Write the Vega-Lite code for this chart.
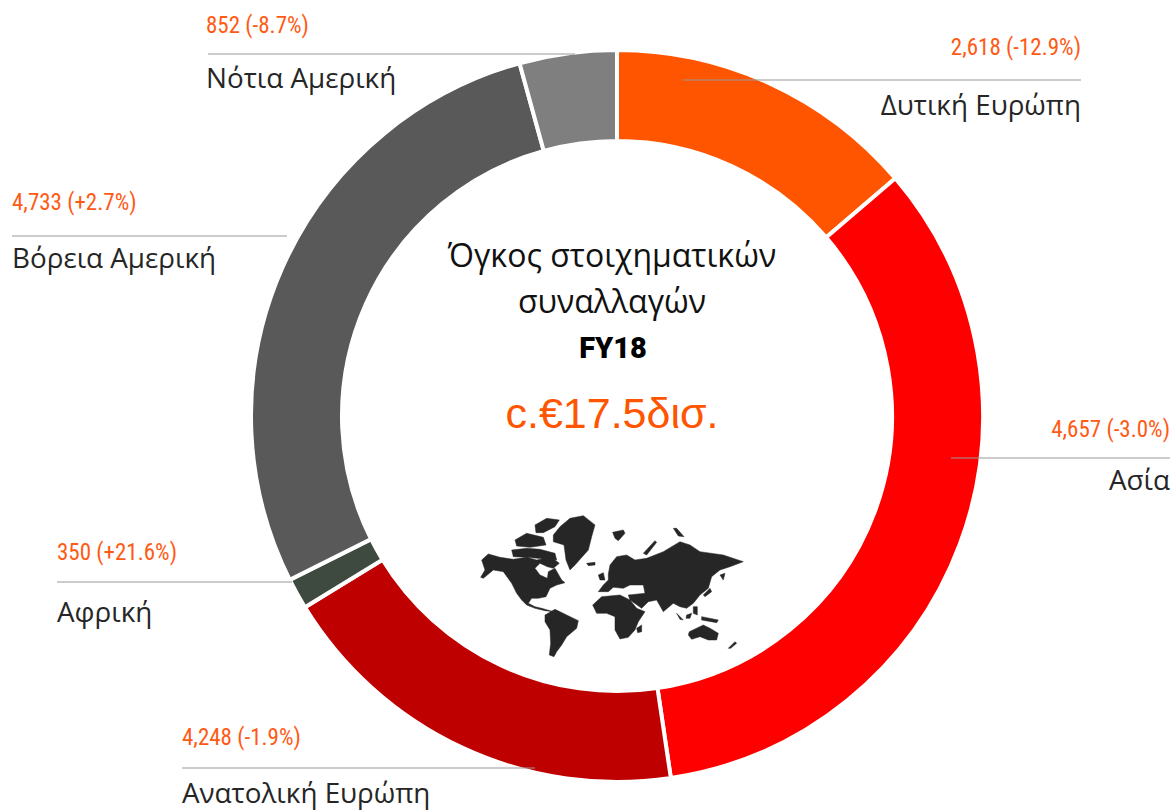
{"$schema":"https://vega.github.io/schema/vega-lite/v6.json","width":1176,"height":811,"padding":0,"autosize":"none","background":"white","config":{"view":{"stroke":null},"axis":{"disable":true}},
"datasets":{"regions":[
{"region":"Δυτική Ευρώπη","order":1,"arcShare":13.75,"volume":"2,618 (-12.9%)"},
{"region":"Ασία","order":2,"arcShare":33.9,"volume":"4,657 (-3.0%)"},
{"region":"Ανατολική Ευρώπη","order":3,"arcShare":18.6,"volume":"4,248 (-1.9%)"},
{"region":"Αφρική","order":4,"arcShare":1.36,"volume":"350 (+21.6%)"},
{"region":"Βόρεια Αμερική","order":5,"arcShare":28.1,"volume":"4,733 (+2.7%)"},
{"region":"Νότια Αμερική","order":6,"arcShare":4.29,"volume":"852 (-8.7%)"}
],"centre":[{"part":"a","text":"Όγκος στοιχηματικών"},{"part":"b","text":"συναλλαγών"},{"part":"c","text":"FY18"},{"part":"d","text":"c.€17.5δισ."}]},
"data":{"name":"regions"},
"layer":[
{"mark":{"type":"arc","radius":366,"radius2":275,"stroke":"white","strokeWidth":4},"encoding":{"x":{"datum":617,"scale":{"domain":[0,1176]}},"y":{"datum":416,"scale":{"domain":[811,0]}},"theta":{"field":"arcShare","type":"quantitative","stack":true},"order":{"field":"order","type":"ordinal"},"color":{"field":"region","type":"nominal","legend":null,"scale":{"domain":["Δυτική Ευρώπη","Ασία","Ανατολική Ευρώπη","Αφρική","Βόρεια Αμερική","Νότια Αμερική"],"range":["#FF5500","#FF0000","#BE0000","#3E4A3F","#595959","#7F7F7F"]}}}},
{"data":{"values":{"type":"FeatureCollection","features":[{"type":"Feature","properties":{"name":"world"},"geometry":{"type":"MultiPolygon","coordinates":[
[[[65,180],[85,162],[120,172],[160,178],[200,172],[230,180],[255,175],[285,180],[298,190],[280,205],[262,200],[240,190],[225,205],[240,225],[262,235],[265,215],[285,205],[305,240],[315,248],[290,255],[270,265],[258,290],[235,295],[215,295],[205,310],[225,320],[245,325],[280,335],[255,332],[225,325],[200,315],[185,300],[170,280],[155,250],[130,215],[100,210],[70,235],[62,232],[75,210],[65,180]]],
[[[225,75],[260,55],[298,60],[285,80],[250,98],[228,98],[225,75]]],
[[[165,120],[200,100],[250,112],[258,135],[210,142],[170,138],[165,120]]],
[[[155,150],[200,145],[240,148],[285,160],[290,180],[200,172],[160,170],[155,150]]],
[[[280,105],[300,80],[330,55],[370,47],[405,75],[395,110],[385,150],[345,195],[330,210],[318,180],[312,135],[280,125],[280,105]]],
[[[380,190],[405,187],[405,195],[385,197],[380,190]]],
[[[255,345],[285,328],[320,345],[355,362],[350,385],[320,410],[305,435],[290,455],[282,470],[268,465],[272,430],[270,390],[255,365],[255,345]]],
[[[398,315],[425,290],[480,285],[510,300],[530,325],[555,335],[535,365],[525,390],[505,412],[480,417],[465,390],[465,350],[440,340],[410,340],[398,315]]],
[[[530,385],[545,375],[545,395],[533,398],[530,385]]],
[[[415,275],[430,255],[445,240],[445,222],[450,195],[470,170],[500,165],[525,180],[560,175],[610,155],[660,125],[690,135],[720,155],[790,165],[850,185],[810,200],[780,210],[755,230],[745,265],[720,285],[700,310],[680,325],[660,320],[640,310],[610,335],[590,300],[565,305],[545,325],[510,300],[505,285],[555,280],[550,255],[510,255],[490,265],[460,262],[445,275],[415,275]]],
[[[415,225],[430,218],[435,240],[420,240],[415,225]]],
[[[730,285],[750,265],[755,275],[735,290],[730,285]]],
[[[780,225],[795,220],[790,240],[780,225]]],
[[[650,340],[670,360],[660,358],[650,340]]],
[[[680,345],[695,340],[690,355],[678,355],[680,345]]],
[[[700,320],[712,320],[712,345],[700,340],[700,320]]],
[[[725,350],[775,360],[770,368],[725,360],[725,350]]],
[[[688,395],[730,375],[750,385],[775,400],[770,420],[745,420],[720,410],[695,418],[685,405],[688,395]]],
[[[805,445],[825,425],[830,430],[812,445],[805,445]]],
[[[458,97],[490,90],[495,100],[475,122],[465,115],[458,97]]],
[[[550,160],[585,122],[590,127],[560,165],[550,160]]],
[[[640,85],[650,85],[672,110],[655,108],[640,85]]]
]}}]},"format":{"type":"json","property":"features"}},
"projection":{"type":"identity","scale":0.3333,"translate":[460,500]},"mark":{"type":"geoshape","fill":"#262626","stroke":"#262626","strokeWidth":0.5},"encoding":{}},

{"transform":[{"filter":"datum.order==1"}],"mark":{"type":"rule","color":"#999999","strokeWidth":1},"encoding":{"x":{"datum":683,"scale":{"domain":[0,1176]}},"x2":{"datum":1081},"y":{"datum":80,"scale":{"domain":[811,0]}}}},
{"transform":[{"filter":"datum.order==2"}],"mark":{"type":"rule","color":"#999999","strokeWidth":1},"encoding":{"x":{"datum":951,"scale":{"domain":[0,1176]}},"x2":{"datum":1170},"y":{"datum":458,"scale":{"domain":[811,0]}}}},
{"transform":[{"filter":"datum.order==3"}],"mark":{"type":"rule","color":"#999999","strokeWidth":1},"encoding":{"x":{"datum":182,"scale":{"domain":[0,1176]}},"x2":{"datum":535},"y":{"datum":768,"scale":{"domain":[811,0]}}}},
{"transform":[{"filter":"datum.order==4"}],"mark":{"type":"rule","color":"#999999","strokeWidth":1},"encoding":{"x":{"datum":57,"scale":{"domain":[0,1176]}},"x2":{"datum":292},"y":{"datum":582,"scale":{"domain":[811,0]}}}},
{"transform":[{"filter":"datum.order==5"}],"mark":{"type":"rule","color":"#999999","strokeWidth":1},"encoding":{"x":{"datum":12,"scale":{"domain":[0,1176]}},"x2":{"datum":287},"y":{"datum":236,"scale":{"domain":[811,0]}}}},
{"transform":[{"filter":"datum.order==6"}],"mark":{"type":"rule","color":"#999999","strokeWidth":1},"encoding":{"x":{"datum":208,"scale":{"domain":[0,1176]}},"x2":{"datum":575},"y":{"datum":54,"scale":{"domain":[811,0]}}}},

{"transform":[{"filter":"datum.order==1"}],"mark":{"type":"text","align":"right","baseline":"alphabetic","font":"Roboto Condensed, Roboto","fontSize":23,"color":"#FF5A14"},"encoding":{"x":{"datum":1081,"scale":{"domain":[0,1176]}},"y":{"datum":55,"scale":{"domain":[811,0]}},"text":{"field":"volume"}}},
{"transform":[{"filter":"datum.order==2"}],"mark":{"type":"text","align":"right","baseline":"alphabetic","font":"Roboto Condensed, Roboto","fontSize":23,"color":"#FF5A14"},"encoding":{"x":{"datum":1170,"scale":{"domain":[0,1176]}},"y":{"datum":437,"scale":{"domain":[811,0]}},"text":{"field":"volume"}}},
{"transform":[{"filter":"datum.order==3"}],"mark":{"type":"text","align":"left","baseline":"alphabetic","font":"Roboto Condensed, Roboto","fontSize":23,"color":"#FF5A14"},"encoding":{"x":{"datum":182,"scale":{"domain":[0,1176]}},"y":{"datum":745,"scale":{"domain":[811,0]}},"text":{"field":"volume"}}},
{"transform":[{"filter":"datum.order==4"}],"mark":{"type":"text","align":"left","baseline":"alphabetic","font":"Roboto Condensed, Roboto","fontSize":23,"color":"#FF5A14"},"encoding":{"x":{"datum":57,"scale":{"domain":[0,1176]}},"y":{"datum":560,"scale":{"domain":[811,0]}},"text":{"field":"volume"}}},
{"transform":[{"filter":"datum.order==5"}],"mark":{"type":"text","align":"left","baseline":"alphabetic","font":"Roboto Condensed, Roboto","fontSize":23,"color":"#FF5A14"},"encoding":{"x":{"datum":12,"scale":{"domain":[0,1176]}},"y":{"datum":210,"scale":{"domain":[811,0]}},"text":{"field":"volume"}}},
{"transform":[{"filter":"datum.order==6"}],"mark":{"type":"text","align":"left","baseline":"alphabetic","font":"Roboto Condensed, Roboto","fontSize":23,"color":"#FF5A14"},"encoding":{"x":{"datum":206,"scale":{"domain":[0,1176]}},"y":{"datum":33,"scale":{"domain":[811,0]}},"text":{"field":"volume"}}},

{"transform":[{"filter":"datum.order==1"}],"mark":{"type":"text","align":"right","baseline":"alphabetic","font":"Open Sans","fontSize":27.8,"color":"#262626"},"encoding":{"x":{"datum":1081,"scale":{"domain":[0,1176]}},"y":{"datum":115,"scale":{"domain":[811,0]}},"text":{"field":"region"}}},
{"transform":[{"filter":"datum.order==2"}],"mark":{"type":"text","align":"right","baseline":"alphabetic","font":"Open Sans","fontSize":27.8,"color":"#262626"},"encoding":{"x":{"datum":1170,"scale":{"domain":[0,1176]}},"y":{"datum":490,"scale":{"domain":[811,0]}},"text":{"field":"region"}}},
{"transform":[{"filter":"datum.order==3"}],"mark":{"type":"text","align":"left","baseline":"alphabetic","font":"Open Sans","fontSize":27.8,"color":"#262626"},"encoding":{"x":{"datum":182,"scale":{"domain":[0,1176]}},"y":{"datum":803,"scale":{"domain":[811,0]}},"text":{"field":"region"}}},
{"transform":[{"filter":"datum.order==4"}],"mark":{"type":"text","align":"left","baseline":"alphabetic","font":"Open Sans","fontSize":27.8,"color":"#262626"},"encoding":{"x":{"datum":57,"scale":{"domain":[0,1176]}},"y":{"datum":622,"scale":{"domain":[811,0]}},"text":{"field":"region"}}},
{"transform":[{"filter":"datum.order==5"}],"mark":{"type":"text","align":"left","baseline":"alphabetic","font":"Open Sans","fontSize":27.8,"color":"#262626"},"encoding":{"x":{"datum":12,"scale":{"domain":[0,1176]}},"y":{"datum":268,"scale":{"domain":[811,0]}},"text":{"field":"region"}}},
{"transform":[{"filter":"datum.order==6"}],"mark":{"type":"text","align":"left","baseline":"alphabetic","font":"Open Sans","fontSize":27.8,"color":"#262626"},"encoding":{"x":{"datum":206,"scale":{"domain":[0,1176]}},"y":{"datum":88,"scale":{"domain":[811,0]}},"text":{"field":"region"}}},

{"data":{"name":"centre"},"transform":[{"filter":"datum.part=='a'"}],"mark":{"type":"text","align":"center","baseline":"alphabetic","font":"Open Sans","fontSize":32,"color":"#111111"},"encoding":{"x":{"datum":612,"scale":{"domain":[0,1176]}},"y":{"datum":267,"scale":{"domain":[811,0]}},"text":{"field":"text"}}},
{"data":{"name":"centre"},"transform":[{"filter":"datum.part=='b'"}],"mark":{"type":"text","align":"center","baseline":"alphabetic","font":"Open Sans","fontSize":32,"color":"#111111"},"encoding":{"x":{"datum":612,"scale":{"domain":[0,1176]}},"y":{"datum":313,"scale":{"domain":[811,0]}},"text":{"field":"text"}}},
{"data":{"name":"centre"},"transform":[{"filter":"datum.part=='c'"}],"mark":{"type":"text","align":"center","baseline":"alphabetic","font":"Roboto","fontWeight":900,"fontSize":29,"color":"#000000"},"encoding":{"x":{"datum":613,"scale":{"domain":[0,1176]}},"y":{"datum":358,"scale":{"domain":[811,0]}},"text":{"field":"text"}}},
{"data":{"name":"centre"},"transform":[{"filter":"datum.part=='d'"}],"mark":{"type":"text","align":"center","baseline":"alphabetic","font":"Liberation Sans","fontSize":43,"color":"#FF5500"},"encoding":{"x":{"datum":612,"scale":{"domain":[0,1176]}},"y":{"datum":428,"scale":{"domain":[811,0]}},"text":{"field":"text"}}}
]}
